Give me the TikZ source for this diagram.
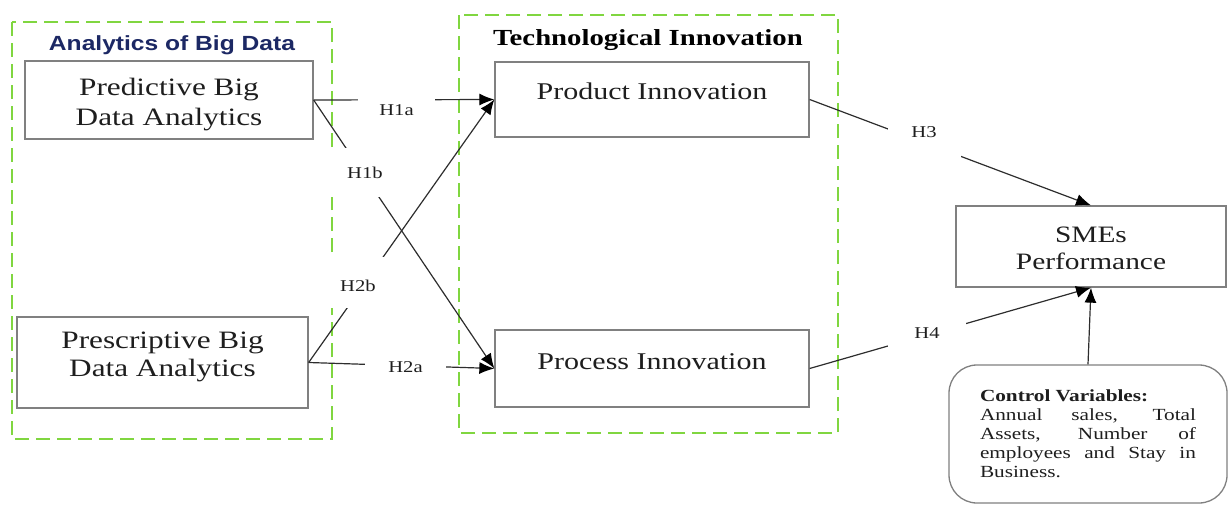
\documentclass[tikz,border=0pt]{standalone}
\usepackage{fontspec}
\setmainfont{Liberation Serif}[FakeStretch=1.25]
\newfontfamily\titlesans{Liberation Sans}[FakeStretch=1.2]
\usetikzlibrary{arrows.meta}
\definecolor{dashgreen}{RGB}{128,214,64}
\definecolor{navy}{RGB}{28,40,100}
\definecolor{boxgray}{RGB}{128,128,128}
\definecolor{linegray}{RGB}{45,45,45}
\definecolor{txtgray}{RGB}{30,30,30}
\begin{document}
\begin{tikzpicture}[x=1pt,y=-1pt,
  groupbox/.style={draw=dashgreen, line width=2pt, dash pattern=on 14pt off 7pt},
  varbox/.style={draw=boxgray, line width=1.3pt, fill=white, inner sep=0pt, text=txtgray},
  hyp/.style={fill=white, inner sep=0pt, text=txtgray, font=\fontsize{16.5}{18}\selectfont},
  conn/.style={draw=linegray, line width=1.2pt},
  arr/.style={conn, -{Latex[length=15pt,width=12pt,color=black]}},
]
\useasboundingbox (0,0) rectangle (1228,504);
% group frames
\draw[groupbox] (12,22) rectangle (332,439);
\draw[groupbox] (459,15) rectangle (838,433);
\node[anchor=base, font=\titlesans\bfseries\fontsize{20.5}{24}\selectfont, text=navy] (t1) at (172,50.5) {Analytics of Big Data};
\node[anchor=base, font=\bfseries\fontsize{23}{26}\selectfont, text=black] (t2) at (648,45) {Technological Innovation};
% variable boxes
\node[varbox, minimum width=288pt, text height=49.5pt, text depth=28.5pt, font=\fontsize{25}{30}\selectfont] (pred) at (169,100)
  {\begin{tabular}{@{}c@{}}Predictive Big\\Data Analytics\end{tabular}};
\node[varbox, minimum width=291pt, text height=45.9pt, text depth=45.1pt, font=\fontsize{25}{28}\selectfont] (presc) at (162.5,362.5)
  {\begin{tabular}{@{}c@{}}Prescriptive Big\\Data Analytics\end{tabular}};
\node[varbox, minimum width=314pt, text height=37pt, text depth=38pt, font=\fontsize{24}{28}\selectfont] (prod) at (652,99.5) {Product Innovation};
\node[varbox, minimum width=314pt, text height=39pt, text depth=38pt, font=\fontsize{24}{28}\selectfont] (proc) at (652,368.5) {Process Innovation};
\node[varbox, minimum width=270pt, text height=50.75pt, text depth=30.25pt, font=\fontsize{23.5}{27}\selectfont] (sme) at (1091,246.5)
  {\begin{tabular}{@{}c@{}}SMEs\\Performance\end{tabular}};
\node[draw=boxgray, line width=1.3pt, rounded corners=28pt, minimum width=278pt, minimum height=138pt, inner sep=0pt, text=txtgray] (ctrl) at (1088,434)
  {\parbox{216pt}{\fontsize{17}{19}\selectfont
   \textbf{Control Variables:}\\
   \makebox[216pt][s]{Annual sales, Total}\\
   \makebox[216pt][s]{Assets, Number of}\\
   \makebox[216pt][s]{employees and Stay in}\\
   Business.}};
% connectors
\draw[arr] (pred.east) -- (prod.west);
\draw[arr] (pred.east) -- (proc.west);
\draw[arr] (presc.east) -- (prod.west);
\draw[arr] (presc.east) -- (proc.west);
\draw[arr] (prod.east) -- (sme.north);
\draw[arr] (proc.east) -- (sme.south);
\draw[arr] (ctrl.north) -- (sme.south);
% hypothesis labels
\node[hyp, anchor=base, minimum width=77pt, text height=25.5pt, text depth=9.5pt] (h1a) at (396.5,115.5) {H1a};
\node[hyp, anchor=base west, text height=30.5pt, text depth=18.5pt] (h1b) at (327,178.5) {\hspace*{20pt}H1b};
\node[hyp, anchor=base west, text height=34.5pt, text depth=16.5pt] (h2b) at (325,291.5) {\hspace*{15pt}H2b\hspace*{8pt}};
\node[hyp, anchor=base, minimum width=81pt, text height=22.5pt, text depth=12.5pt] (h2a) at (405.5,372.5) {H2a};
\node[hyp, anchor=base, minimum width=73pt, text height=19.5pt, text depth=22.5pt] (h3) at (924,137.5) {H3};
\node[hyp, anchor=base, minimum width=78pt, text height=20.5pt, text depth=11.5pt] (h4) at (927,338.5) {H4};
\end{tikzpicture}
\end{document}
